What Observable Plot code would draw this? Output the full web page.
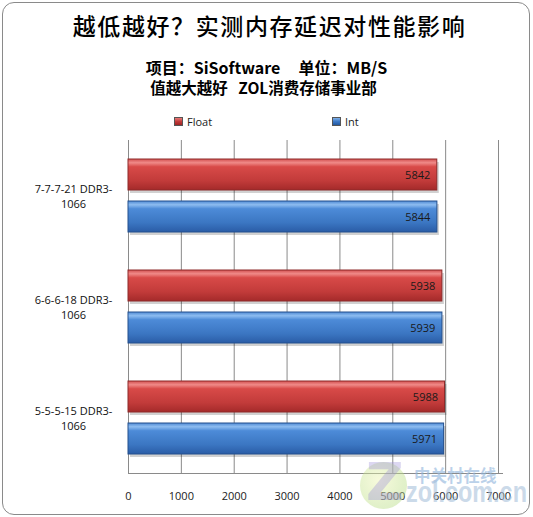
<!DOCTYPE html>
<html><head><meta charset="utf-8">
<script src="https://cdn.jsdelivr.net/npm/d3@7"></script>
<script src="https://cdn.jsdelivr.net/npm/@observablehq/plot@0.6"></script>
<style>
body{margin:0;background:#fff;}
#wrap{position:relative;width:533px;height:517px;overflow:hidden;font-family:"Open Sans",sans-serif;}
#border{position:absolute;left:2px;top:2px;width:526px;height:511px;border:1px solid #8a8a8a;border-radius:12px;}
.t{position:absolute;left:0;width:533px;text-align:center;white-space:nowrap;color:#000;}
#title{top:8px;left:3px;font-family:"Noto Sans CJK SC",sans-serif;font-size:23px;letter-spacing:1.6px;font-weight:500;}
#sub1{top:55px;left:0px;font-family:"Noto Sans CJK SC",sans-serif;font-size:16px;font-weight:700;}
#sub2{top:76px;left:-3px;font-family:"Noto Sans CJK SC",sans-serif;font-size:15.5px;font-weight:700;}
#legend{position:absolute;top:114px;left:0;width:533px;font-size:11px;color:#222;}
.li{position:absolute;display:flex;align-items:center;gap:4px;}
.sw{width:7px;height:7px;border:1px solid #555;}
#plot{position:absolute;left:0;top:130px;}
#logo{position:absolute;left:360px;top:462px;width:47px;height:47px;border-radius:50%;background:radial-gradient(circle at 40% 40%,#eef4b0,#bfe08a 60%,#a8d67a);opacity:0.45;}
#logoZ{position:absolute;left:366px;top:452px;font-family:"DejaVu Sans",sans-serif;font-size:52px;font-weight:700;color:#9c8ed8;opacity:0.35;}
#wm1{position:absolute;left:414px;top:464px;font-family:"Noto Sans CJK SC",sans-serif;font-size:16.5px;font-weight:700;color:#8fb4dc;opacity:0.6;letter-spacing:0px;line-height:22px;}
#wm2{position:absolute;left:406px;top:475px;font-family:"Liberation Sans",sans-serif;font-size:30px;font-weight:700;color:#a9c2dc;opacity:0.6;transform:scaleX(0.78);transform-origin:left top;line-height:34px;}
</style></head>
<body>
<div id="wrap">
<div id="border"></div>
<div id="title" class="t"></div>
<div id="sub1" class="t"></div>
<div id="sub2" class="t"></div>
<div id="legend"></div>
<div id="plot"></div>
<div id="logo"></div>
<div id="logoZ">Z</div>
<div id="wm1">中关村在线</div>
<div id="wm2">zol.com.cn</div>
</div>
<script>
const title = "越低越好？实测内存延迟对性能影响";
const subtitle1 = "项目：SiSoftware\u00a0\u00a0\u00a0\u00a0\u00a0单位：MB/S";
const subtitle2 = "值越大越好\u00a0\u00a0\u00a0ZOL消费存储事业部";
const categories = ["7-7-7-21 DDR3-1066", "6-6-6-18 DDR3-1066", "5-5-5-15 DDR3-1066"];
const categoryLines = [["7-7-7-21 DDR3-", "1066"], ["6-6-6-18 DDR3-", "1066"], ["5-5-5-15 DDR3-", "1066"]];
const series = ["Float", "Int"];
const floatValues = [5842, 5938, 5988];
const intValues = [5844, 5939, 5971];
const xTicks = [0, 1000, 2000, 3000, 4000, 5000, 6000, 7000];

document.getElementById("title").textContent = title;
document.getElementById("sub1").textContent = subtitle1;
document.getElementById("sub2").textContent = subtitle2;

const floatData = categories.map((c, i) => ({cat: c, series: "Float", value: floatValues[i]}));
const intData = categories.map((c, i) => ({cat: c, series: "Int", value: intValues[i]}));
const allData = floatData.concat(intData);
const labelData = categories.map((c, i) => ({cat: c, text: categoryLines[i].join("\n")}));

// legend
const legend = document.getElementById("legend");
const legendItems = [{name: series[0], left: 174, grad: "linear-gradient(#e97a78,#c23b3a,#9d2424)"},
                     {name: series[1], left: 332, grad: "linear-gradient(#7fb0e8,#3b78c6,#23579e)"}];
for (const it of legendItems) {
  const d = document.createElement("div");
  d.className = "li"; d.style.left = it.left + "px";
  const s = document.createElement("div"); s.className = "sw"; s.style.background = it.grad;
  const t = document.createElement("span"); t.textContent = it.name;
  d.appendChild(s); d.appendChild(t); legend.appendChild(d);
}

const H = 380, MB = 37;
const chart = Plot.plot({
  width: 533, height: H,
  marginLeft: 128, marginRight: 35, marginTop: 10, marginBottom: MB,
  style: {fontFamily: "Open Sans, sans-serif", fontSize: "11px", color: "#222", background: "transparent"},
  x: {domain: [0, 7000], ticks: xTicks, tickSize: 0, tickPadding: 19, tickFormat: d => String(d), label: null},
  fy: {domain: categories, padding: 0, axis: null, label: null},
  y: {domain: series, paddingInner: 0.27, paddingOuter: 0.44, axis: null},
  marks: [
    Plot.ruleX(xTicks, {stroke: "#8a8a8a", strokeWidth: 1}),
    Plot.barX(allData, {fy: "cat", y: "series", x: "value", fill: "#000", fillOpacity: 0.18, dx: 2, dy: 3}),
    Plot.barX(floatData, {fy: "cat", y: "series", x: "value", fill: "url(#gradRed)", stroke: "#8e2a2a", strokeWidth: 1}),
    Plot.barX(intData, {fy: "cat", y: "series", x: "value", fill: "url(#gradBlue)", stroke: "#24508e", strokeWidth: 1}),
    Plot.text(allData, {fy: "cat", y: "series", x: "value", text: d => String(d.value), textAnchor: "end", dx: -7, fill: "#1a1a1a", fontSize: 11}),
    Plot.text(labelData, {fy: "cat", text: "text", frameAnchor: "left", dx: -55, textAnchor: "middle", lineHeight: 1.35, fill: "#111", fontSize: 11})
  ]
});

const svg = d3.select(chart.tagName.toLowerCase() === "svg" ? chart : chart.querySelector("svg"));
const defs = svg.insert("defs", ":first-child");
function grad(id, stops) {
  const g = defs.append("linearGradient").attr("id", id).attr("x1", 0).attr("y1", 0).attr("x2", 0).attr("y2", 1);
  for (const [o, c] of stops) g.append("stop").attr("offset", o).attr("stop-color", c);
}
grad("gradRed", [[0, "#d25050"], [0.12, "#f08a88"], [0.25, "#d84a48"], [0.7, "#c23b3a"], [1, "#a42a2a"]]);
grad("gradBlue", [[0, "#4f8ad4"], [0.12, "#8dbcf0"], [0.25, "#4d8bd8"], [0.7, "#3b76c2"], [1, "#2a5ca6"]]);

// bottom axis line using the x scale
const xs = chart.scale("x");
svg.append("line")
  .attr("x1", xs.apply(0)).attr("x2", xs.apply(7000) + 5)
  .attr("y1", H - MB + 0.5).attr("y2", H - MB + 0.5)
  .attr("stroke", "#8a8a8a");

document.getElementById("plot").appendChild(chart);
</script>
</body></html>
